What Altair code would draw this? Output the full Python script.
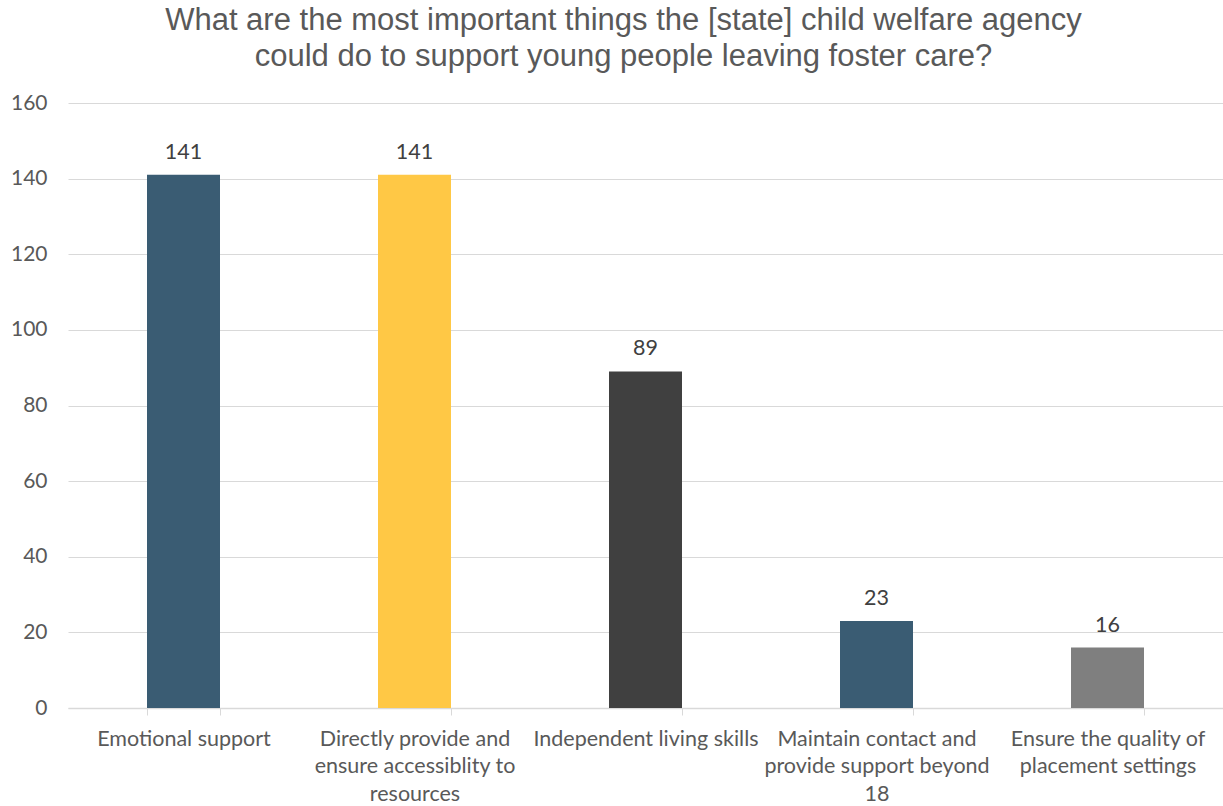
import altair as alt
import pandas as pd

categories = [
    "Emotional support",
    "Directly provide and|ensure accessiblity to|resources",
    "Independent living skills",
    "Maintain contact and|provide support beyond|18",
    "Ensure the quality of|placement settings",
]
values = [141, 141, 89, 23, 16]
colors = ["#3A5C73", "#FFC845", "#404040", "#3A5C73", "#7F7F7F"]

df = pd.DataFrame({"cat": categories, "val": values, "col": colors})

base = alt.Chart(df).encode(
    x=alt.X(
        "cat:N",
        sort=categories,
        title=None,
        scale=alt.Scale(paddingInner=0.685, paddingOuter=0.3425),
        axis=alt.Axis(
            labelExpr="split(datum.label, '|')",
            labelAngle=0,
            labelFont="Lato",
            labelFontSize=21.5,
            labelColor="#595959",
            labelLineHeight=27.5,
            labelPadding=13,
            labelLimit=300,
            domainColor="#D9D9D9",
            domainWidth=1.5,
            tickColor="#D9D9D9",
            tickSize=7,
            tickBand="extent",
            grid=False,
        ),
    ),
    y=alt.Y(
        "val:Q",
        title=None,
        scale=alt.Scale(domain=[0, 160]),
        axis=alt.Axis(
            values=[0, 20, 40, 60, 80, 100, 120, 140, 160],
            labelFont="Lato",
            labelFontSize=21,
            labelColor="#595959",
            labelPadding=21,
            domain=False,
            ticks=False,
            gridColor="#D9D9D9",
            gridWidth=1.2,
        ),
    ),
)

bars = base.mark_bar(size=73).encode(color=alt.Color("col:N", scale=None))
texts = base.mark_text(
    baseline="bottom", dy=-11, font="Lato", fontSize=21.5, color="#404040"
).encode(text="val:Q")

chart = (
    (bars + texts)
    .properties(
        width=1155,
        height=605,
        padding={"left": 68, "top": 103, "right": 0, "bottom": 98},
        autosize=alt.AutoSizeParams(type="none"),
        title=alt.TitleParams(
            text=[
                "What are the most important things the [state] child welfare agency",
                "could do to support young people leaving foster care?",
            ],
            font="Liberation Sans",
            fontSize=31,
            fontWeight="normal",
            color="#595959",
            lineHeight=36,
            anchor="middle",
            dx=-22,
            offset=19,
        ),
    )
    .configure_view(stroke=None)
)

chart.save("out.html", embed_options={"renderer": "svg", "actions": False})
